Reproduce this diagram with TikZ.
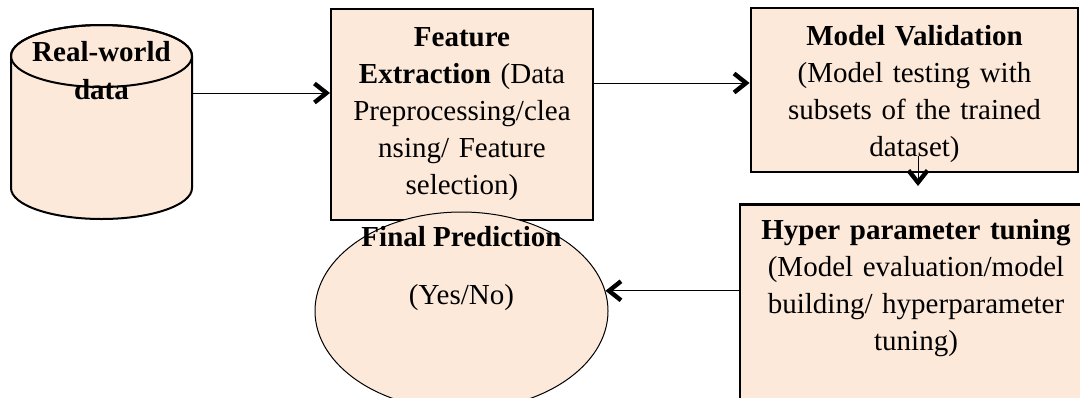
\documentclass[tikz,border=0pt]{standalone}
\usepackage{fontspec}
\setmainfont{Liberation Serif}
\usetikzlibrary{shapes.geometric, arrows.meta, positioning}
\definecolor{peach}{HTML}{FCE9DA}

\begin{document}
\begin{tikzpicture}[x=0.5pt, y=-0.5pt,
  every node/.style={font=\fontsize{14.5}{18.5}\selectfont, align=center},
  box/.style={draw, fill=peach, line width=1pt, inner sep=2pt},
  flow/.style={-{Straight Barb[length=6pt, width=9.5pt, line width=2.2pt]}, line width=0.5pt}]
  \useasboundingbox (0,0) rectangle (1080,397);
  \clip (0,0) rectangle (1080,397);

  % data store (drawn by hand, text on top)
  \filldraw[fill=peach, line width=1pt] (11,56) -- (11,188) arc (180:360:45.25pt and 15.5pt)
    -- (192,56) arc (0:180:45.25pt and 15.5pt) -- cycle;
  \draw[line width=1pt] (101.5,56) ellipse (45.25pt and 15.5pt);
  \node[font=\fontsize{14.5}{19}\selectfont\bfseries] (data) at (101.5,71) {Real-world\\data};
  \coordinate (datarim) at (192,93);

  % processing steps
  \node[box, minimum width=131pt, minimum height=105.5pt, text width=125pt] (feat) at (462,114.5)
    {\textbf{Feature}\\\textbf{Extraction} (Data\\Preprocessing/clea\\nsing/ Feature\\selection)};
  \node[box, line width=1.4pt, minimum width=163.5pt, minimum height=82pt, text width=158pt,
        text height=14pt] (mv) at (914.5,90)
    {\textbf{Model Validation}\\(Model testing with\\subsets of the trained\\dataset)};
  \node[box, line width=1.4pt, anchor=north, inner ysep=7.5pt, minimum width=176pt, text width=165pt,
        text depth=85pt] (hyper) at (916,203)
    {\textbf{Hyper parameter tuning}\\(Model evaluation/model\\building/ hyperparameter\\tuning)};

  % outcome
  \node[ellipse, draw, fill=peach, line width=0.5pt, minimum width=146.5pt, minimum height=99pt, inner sep=0pt,
        label={[yshift=21pt]center:{\textbf{Final Prediction}\\[10.5pt](Yes/No)}}] (pred) at (461.5,311) {};

  \draw[flow] (datarim) -- (datarim -| feat.west);
  \draw[flow] ([yshift=15.75pt]feat.east) -- ([yshift=15.75pt]feat.east -| mv.west);
  \draw[flow] ([xshift=1.75pt, yshift=8.5pt]mv.south) -- ([xshift=1.75pt, yshift=8.5pt]mv.south |- hyper.north);
  \draw[flow] (pred.8 -| hyper.west) -- (pred.8);
\end{tikzpicture}
\end{document}
